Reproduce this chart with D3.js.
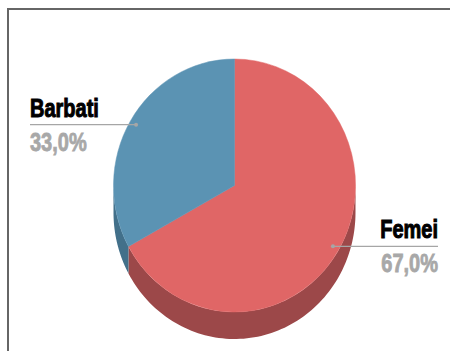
<!DOCTYPE html>
<html>
<head>
<meta charset="utf-8">
<script src="https://cdn.jsdelivr.net/npm/d3@7/dist/d3.min.js"></script>
<style>
html, body { margin: 0; padding: 0; background: #fff; }
svg { display: block; }
text { font-family: "Liberation Sans", sans-serif; font-weight: 700; }
</style>
</head>
<body>
<svg id="chart" width="450" height="351"></svg>
<script>
// Gender split shown as a tilted pie with a solid rim
const categories = ["Femei", "Barbati"];
const shares = [67.0, 33.0];
const shareLabels = ["67,0%", "33,0%"];
const topColors = ["#e06666", "#5b93b3"];
const wallColors = ["#9c4849", "#42708a"];

const W = 450, H = 351;
const cx = 234.5, cy = 185.5, rx = 121, ry = 126.5, depth = 27;

const svg = d3.select("#chart").attr("viewBox", `0 0 ${W} ${H}`);

// Frame along the top and left edges
svg.append("path")
  .attr("d", d3.line()([[8, H], [8, 9], [W, 9]]))
  .attr("fill", "none").attr("stroke", "#666").attr("stroke-width", 2);

const slices = d3.pie().sort(null).value(d => d)(shares);

// Clock-style angle (0 at top, clockwise) to a point on the tilted rim
const rim = (a, dy = 0, k = 1) => [cx + rx * k * Math.sin(a), cy + dy - ry * k * Math.cos(a)];

// Side wall: only the front half of the rim (PI/2 to 3PI/2) is visible
const front = s => [Math.max(s.startAngle, Math.PI / 2), Math.min(s.endAngle, 3 * Math.PI / 2)];
const wallPath = s => {
  const [a0, a1] = front(s);
  if (a1 <= a0) return null;
  const steps = d3.range(0, 1.0001, 1 / 90).map(t => a0 + (a1 - a0) * t);
  const upper = steps.map(a => rim(a));
  const lower = steps.slice().reverse().map(a => rim(a, depth));
  return d3.line()(upper.concat(lower)) + "Z";
};

svg.append("g").selectAll("path").data(slices).join("path")
  .attr("d", wallPath)
  .attr("fill", (d, i) => wallColors[i]);

// Top face: a unit-radius arc stretched to the ellipse
const unitArc = d3.arc().innerRadius(0).outerRadius(1);
svg.append("g")
  .attr("transform", `translate(${cx},${cy}) scale(${rx},${ry})`)
  .selectAll("path").data(slices).join("path")
  .attr("d", unitArc)
  .attr("fill", (d, i) => topColors[i])
  .attr("stroke", (d, i) => topColors[i])
  .attr("stroke-width", 0.004);

// Callouts start at each slice's mid-angle and run out to the label column
const leaderReach = 0.945;
const labelEdges = [438, 30];
const labelSides = ["end", "start"];
const narrow = 0.8;

const callouts = svg.append("g").selectAll("g").data(slices).join("g");
callouts.each(function (s, i) {
  const [ax, ay] = rim((s.startAngle + s.endAngle) / 2, 0, leaderReach);
  const edge = labelEdges[i];
  const g = d3.select(this);
  g.append("line")
    .attr("x1", ax).attr("y1", ay).attr("x2", edge).attr("y2", ay)
    .attr("stroke", "#a6a6a6").attr("stroke-width", 1.2);
  g.append("circle").attr("cx", ax).attr("cy", ay).attr("r", 2).attr("fill", "#a6a6a6");
  g.append("text")
    .attr("transform", `translate(${edge},${ay - 8}) scale(${narrow},1)`)
    .attr("text-anchor", labelSides[i])
    .attr("font-size", 25).attr("fill", "#000")
    .attr("stroke", "#000").attr("stroke-width", 1)
    .text(categories[i]);
  g.append("text")
    .attr("transform", `translate(${edge},${ay + 26}) scale(${narrow},1)`)
    .attr("text-anchor", labelSides[i])
    .attr("font-size", 25).attr("fill", "#a8a8a8")
    .attr("stroke", "#a8a8a8").attr("stroke-width", 0.8)
    .text(shareLabels[i]);
});
</script>
</body>
</html>
